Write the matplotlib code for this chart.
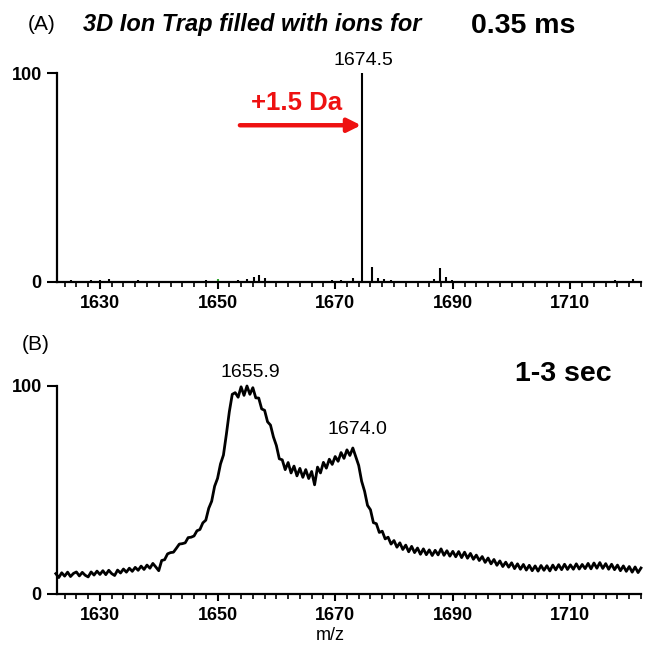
import numpy as np
import matplotlib
matplotlib.use("Agg")
import matplotlib.pyplot as plt

plt.rcParams['font.family'] = ['Liberation Sans', 'DejaVu Sans']

# ---------------- data ----------------
# Panel A: stick spectrum (m/z, relative intensity)
stick_mz = [1623.5, 1625.0, 1626.5, 1628.5, 1630.0, 1631.5, 1632.5, 1634.0, 1636.5,
            1638.0, 1640.5, 1642.0, 1644.5, 1646.5, 1648.0, 1652.0, 1653.5, 1655.0,
            1656.2, 1657.0, 1658.0, 1659.5, 1661.0, 1663.0, 1665.5, 1667.5, 1669.5,
            1671.0, 1673.0, 1674.5, 1676.3, 1677.2, 1678.3, 1679.5, 1681.5, 1683.5,
            1685.5, 1686.8, 1687.8, 1688.8, 1689.8, 1691.5, 1693.5, 1696.0, 1698.5,
            1701.0, 1703.5, 1706.0, 1708.5, 1711.0, 1713.5, 1716.0, 1717.5, 1719.5,
            1720.6]
stick_int = [0.6, 0.8, 0.5, 0.9, 1.0, 1.3, 0.7, 0.5, 0.8,
             0.6, 0.5, 0.7, 0.6, 0.5, 0.8, 0.6, 0.9, 1.5,
             2.4, 3.3, 1.8, 0.7, 0.6, 0.5, 0.7, 0.6, 0.8,
             0.9, 2.0, 100.0, 7.2, 2.0, 1.3, 0.8, 0.6, 0.5,
             0.7, 1.4, 6.6, 2.4, 1.0, 0.6, 0.5, 0.7, 0.5,
             0.6, 0.5, 0.6, 0.5, 0.7, 0.5, 0.6, 1.0, 0.6,
             1.4]
green_mz = [1650.0]
green_int = [1.5]

# Panel B: continuous profile, m/z from 1622.5 in steps of 0.5
mz_b_start = 1622.5
mz_b_step = 0.5
int_b = [
    9.8, 7.9, 10.2, 8.6, 10.5, 8.4, 9.9, 10.6, 8.7, 10.4,
    9.0, 8.2, 10.6, 9.1, 11.0, 9.4, 11.2, 9.3, 11.4, 9.8,
    8.9, 11.5, 10.1, 12.0, 10.5, 12.4, 10.9, 12.8, 11.4, 13.4,
    11.8, 13.9, 12.4, 14.7, 13.0, 11.2, 16.1, 16.5, 19.3, 19.9,
    20.1, 22.0, 24.0, 24.2, 24.6, 27.1, 27.3, 27.9, 30.4, 31.0,
    34.2, 35.5, 41.2, 44.6, 51.8, 55.6, 62.5, 66.8, 76.8, 87.6,
    96.0, 96.8, 94.6, 99.6, 95.5, 100.0, 96.0, 99.2, 94.3, 94.2,
    89.0, 88.3, 82.8, 81.2, 75.5, 71.4, 65.0, 64.5, 59.8, 63.2,
    58.2, 61.5, 56.8, 60.4, 56.1, 59.8, 55.5, 58.9, 52.5, 61.0,
    58.2, 63.3, 60.5, 64.8, 62.3, 66.1, 63.8, 68.0, 65.2, 69.3,
    66.6, 70.2, 66.0, 61.8, 54.2, 49.4, 42.6, 40.5, 34.3, 33.8,
    29.6, 30.2, 26.5, 27.3, 24.0, 25.7, 22.5, 24.6, 21.4, 23.5,
    20.3, 22.9, 19.9, 22.1, 19.1, 21.7, 18.9, 21.2, 18.5, 21.0,
    18.8, 21.7, 18.6, 20.8, 18.2, 20.5, 17.9, 20.4, 17.5, 20.1,
    17.2, 19.5, 16.7, 18.7, 16.1, 18.0, 15.2, 17.3, 14.5, 16.6,
    13.8, 15.9, 13.2, 15.3, 12.9, 15.0, 12.2, 14.5, 11.9, 14.2,
    11.5, 13.8, 11.2, 13.5, 11.0, 13.7, 11.4, 13.6, 11.1, 13.9,
    11.6, 14.1, 11.7, 14.3, 11.8, 14.0, 11.9, 14.5, 12.0, 14.2,
    12.2, 14.7, 12.1, 14.9, 12.4, 15.1, 12.3, 14.6, 11.9, 14.3,
    11.7, 13.9, 11.2, 13.5, 10.9, 13.2, 10.5, 13.0, 10.3, 12.5,
]
mz_b = mz_b_start + mz_b_step * np.arange(len(int_b))

xtick_major = [1630, 1650, 1670, 1690, 1710]
xtick_labels = ['1630', '1650', '1670', '1690', '1710']
ytick_vals = [0, 100]
ytick_labels = ['0', '100']

# ---------------- figure ----------------
W, H = 651, 647
fig = plt.figure(figsize=(W / 100, H / 100), dpi=100)

def fx(px):
    return px / W

def fy(py):
    return 1 - py / H

axA = fig.add_axes([fx(57), fy(282), fx(641) - fx(57), fy(73) - fy(282)])
axB = fig.add_axes([fx(57), fy(594), fx(641) - fx(57), fy(386) - fy(594)])

for ax in (axA, axB):
    ax.set_xlim(1622.7, 1722.0)
    ax.set_ylim(0, 100)
    for s in ('top', 'right'):
        ax.spines[s].set_visible(False)
    for s in ('left', 'bottom'):
        ax.spines[s].set_linewidth(1.6)
    ax.set_xticks(xtick_major)
    ax.set_xticklabels(xtick_labels)
    ax.set_xticks(np.arange(1624, 1723, 2), minor=True)
    ax.set_yticks(ytick_vals)
    ax.set_yticklabels(ytick_labels)
    ax.tick_params(axis='x', which='major', direction='out', length=5, width=1.5,
                   labelsize=13, pad=4)
    ax.tick_params(axis='x', which='minor', direction='out', length=3.5, width=1.2)
    ax.tick_params(axis='y', which='major', direction='out', length=7, width=1.5,
                   labelsize=13, pad=4)
    for lab in ax.get_xticklabels() + ax.get_yticklabels():
        lab.set_fontweight('bold')
    ax.patch.set_alpha(0)

# Panel A sticks
axA.vlines(stick_mz, 0, stick_int, color='black', lw=1.5, clip_on=False)
axA.vlines(green_mz, 0, green_int, color='#33aa33', lw=1.5, clip_on=False)
axA.text(1674.8, 106, '1674.5', ha='center', va='center', fontsize=14)
axA.annotate('', xy=(1674.4, 75), xytext=(1653.8, 75),
             arrowprops=dict(arrowstyle='-|>,head_length=0.8,head_width=0.4',
                             color='#ee1111', lw=3.2, shrinkA=0, shrinkB=0))
axA.text(1663.5, 85.6, '+1.5 Da', ha='center', va='center', fontsize=18.5,
         fontweight='bold', color='#ee1111')

# Panel B profile
axB.plot(mz_b, int_b, color='black', lw=2.0, clip_on=False)
axB.text(1655.5, 106.7, '1655.9', ha='center', va='center', fontsize=14)
axB.text(1673.7, 79.3, '1674.0', ha='center', va='center', fontsize=14)

# Headers
fig.text(fx(28), fy(25), '(A)', ha='left', va='center', fontsize=15)
fig.text(fx(83), fy(25), '3D Ion Trap filled with ions for', ha='left', va='center',
         fontsize=17, fontweight='bold', fontstyle='italic')
fig.text(fx(471), fy(26), '0.35 ms', ha='left', va='center', fontsize=20.5,
         fontweight='bold')
fig.text(fx(22), fy(345), '(B)', ha='left', va='center', fontsize=15)
fig.text(fx(515), fy(374), '1-3 sec', ha='left', va='center', fontsize=20.5,
         fontweight='bold')
fig.text(fx(330), fy(636), 'm/z', ha='center', va='center', fontsize=13)

fig.savefig('out.png', dpi=100, facecolor='white')
